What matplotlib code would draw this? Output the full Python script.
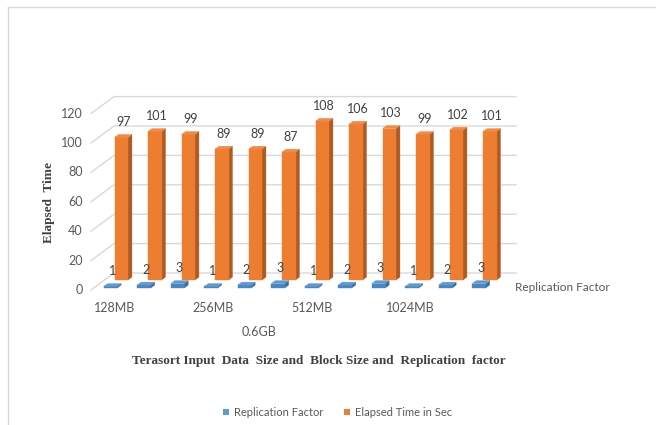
import matplotlib
matplotlib.use("Agg")
import matplotlib.pyplot as plt
from matplotlib.patches import Polygon

# ---- data -------------------------------------------------------------
block_sizes = ["128MB", "256MB", "512MB", "1024MB"]
data_size_label = "0.6GB"
replication = [1, 2, 3, 1, 2, 3, 1, 2, 3, 1, 2, 3]
elapsed_sec = [97, 101, 99, 89, 89, 87, 108, 106, 103, 99, 102, 101]
y_ticks = [0, 20, 40, 60, 80, 100, 120]

series_names = ["Replication Factor", "Elapsed Time in Sec"]
depth_axis_label = "Replication Factor"
y_title = "Elapsed  Time"
x_title = "Terasort Input  Data  Size and  Block Size and  Replication  factor"

# ---- oblique 3-D projection helpers -----------------------------------
PX_PER_SLOT = 33.5
PX_PER_UNIT = 1.47
KX = 23.0 / PX_PER_SLOT          # horizontal shift of the full depth
KY = 17.0 / PX_PER_UNIT          # vertical shift of the full depth


def proj(s, z, v):
    return s + KX * z, v + KY * z


def bar3d(ax, s, z0, depth, width, v, c_front, c_side, c_top, zorder):
    x0, x1 = s - width / 2, s + width / 2
    z1 = z0 + depth
    front = [proj(x0, z0, 0), proj(x1, z0, 0), proj(x1, z0, v), proj(x0, z0, v)]
    side = [proj(x1, z0, 0), proj(x1, z1, 0), proj(x1, z1, v), proj(x1, z0, v)]
    top = [proj(x0, z0, v), proj(x1, z0, v), proj(x1, z1, v), proj(x0, z1, v)]
    for pts, c in ((side, c_side), (front, c_front), (top, c_top)):
        ax.add_patch(Polygon(pts, closed=True, facecolor=c, edgecolor=c,
                             linewidth=0.3, zorder=zorder))


W, H = 656, 425
fig = plt.figure(figsize=(W / 100, H / 100), dpi=100)
ax = fig.add_axes([0, 0, 1, 1])
ox, oy = 91.0, 290.0   # pixel position of the floor's front-left corner
ax.set_xlim(-ox / PX_PER_SLOT, (W - ox) / PX_PER_SLOT)
ax.set_ylim((oy - H) / PX_PER_UNIT, oy / PX_PER_UNIT)
ax.axis("off")

FONT = "Lato"
GRAY = "#595959"
n = len(elapsed_sec)

# gridlines on the side wall and the back wall
for t in y_ticks:
    a = proj(0, 0, t)
    b = proj(0, 1, t)
    c = proj(n, 1, t)
    ax.plot([a[0], b[0], c[0]], [a[1], b[1], c[1]], color="#D9D9D9",
            linewidth=1.0, zorder=1, solid_joinstyle="miter")
    ax.text(a[0] - 0.25, a[1], str(t), ha="right", va="center",
            fontsize=9, color=GRAY, family=FONT)

BAR_W = 0.4
DEPTH = 0.17
Z_BACK = 0.59
Z_FRONT = 0.12

# back row: elapsed time
for i, v in enumerate(elapsed_sec):
    s = i + 0.5
    bar3d(ax, s, Z_BACK, DEPTH, BAR_W, v, "#ED7D31", "#AE5A21", "#F08A45", 3)
    lx, ly = proj(s, Z_BACK + DEPTH / 2, v)
    ax.text(lx, ly + 9.5, str(v), ha="center", va="center", fontsize=9,
            color="#404040", family=FONT, zorder=10)

# front row: replication factor
for i, v in enumerate(replication):
    s = i + 0.5
    bar3d(ax, s, Z_FRONT, DEPTH, BAR_W, v, "#4A86C2", "#3A6D9E", "#5B9BD5", 5)
    lx, ly = proj(s, Z_FRONT + DEPTH / 2, v)
    ax.text(lx, ly + 9.5, str(v), ha="center", va="center", fontsize=9,
            color="#404040", family=FONT, zorder=10)

# category labels
for g, name in enumerate(block_sizes):
    ax.text(0.69 + 2.95 * g, -12.2, name, ha="center", va="center",
            fontsize=9, color=GRAY, family=FONT)
ax.text(5.0, -28.6, data_size_label, ha="center", va="center",
        fontsize=9, color=GRAY, family=FONT)

# depth axis label
ax.text(12.65, 1.4, depth_axis_label, ha="left", va="center",
        fontsize=8.5, color=GRAY, family=FONT)

# titles
fig.text(49 / W, 1 - 202 / H, y_title, rotation=90, ha="center", va="center",
         fontsize=9.5, fontweight="bold", color="#404040", family="Liberation Serif")
fig.text(319 / W, 1 - 361 / H, x_title, ha="center", va="center",
         fontsize=9.5, fontweight="bold", color="#404040", family="Liberation Serif")

# legend
items = [(226, "#5B9BD5", series_names[0]), (347, "#ED7D31", series_names[1])]
for px, col, label in items:
    fig.patches.append(plt.Rectangle(((px - 3) / W, 1 - 415 / H), 6 / W, 6 / H,
                                     transform=fig.transFigure, facecolor=col,
                                     edgecolor="none"))
    fig.text((px + 8) / W, 1 - 412 / H, label, ha="left", va="center",
             fontsize=8, color=GRAY, family=FONT)

# chart area frame (left and top edges)
fig.add_artist(plt.Line2D([8 / W, 8 / W], [0, 1 - 7 / H], transform=fig.transFigure,
                          color="#D9D9D9", linewidth=1))
fig.add_artist(plt.Line2D([8 / W, 1], [1 - 7 / H, 1 - 7 / H], transform=fig.transFigure,
                          color="#D9D9D9", linewidth=1))

fig.savefig("out.png", dpi=100)
